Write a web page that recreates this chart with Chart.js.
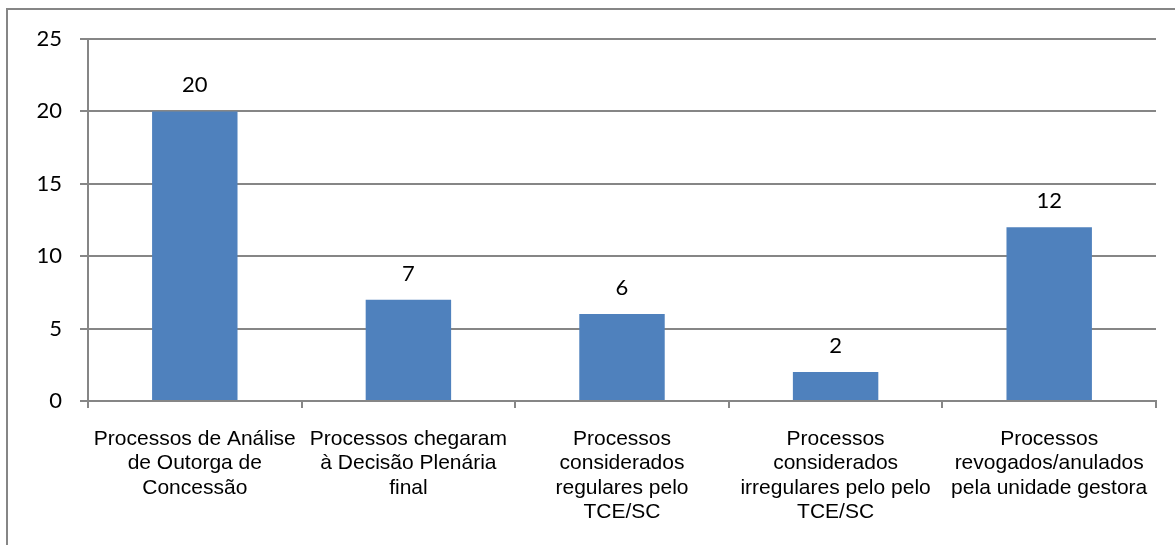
<!DOCTYPE html>
<html>
<head>
<meta charset="utf-8">
<script src="https://cdn.jsdelivr.net/npm/chart.js@4/dist/chart.umd.min.js"></script>
<style>
  html, body { margin: 0; padding: 0; background: #ffffff; overflow: hidden; }
  #frame {
    position: absolute; left: 6px; top: 8px; width: 1300px; height: 700px;
    border-left: 2px solid #868686; border-top: 2px solid #868686;
  }
  #wrap { position: absolute; left: 0; top: 0; width: 1175px; height: 545px; }
</style>
</head>
<body>
<div id="frame"></div>
<div id="wrap"><canvas id="chart" width="1175" height="545"></canvas></div>
<script>
// Categories (multi-line labels) and counts
const categories = [
  ["Processos de Análise", "de Outorga de", "Concessão"],
  ["Processos chegaram", "à Decisão Plenária", "final"],
  ["Processos", "considerados", "regulares pelo", "TCE/SC"],
  ["Processos", "considerados", "irregulares pelo pelo", "TCE/SC"],
  ["Processos", "revogados/anulados", "pela unidade gestora"]
];
const counts = [20, 7, 6, 2, 12];
const yTicks = [0, 5, 10, 15, 20, 25];

const GRID = '#868686';

// Value labels above each bar
const valueLabels = {
  id: 'valueLabels',
  afterDatasetsDraw(chart) {
    const ctx = chart.ctx;
    const meta = chart.getDatasetMeta(0);
    ctx.save();
    ctx.font = '22px Lato, "Open Sans", sans-serif';
    ctx.fillStyle = '#000000';
    ctx.textAlign = 'center';
    ctx.textBaseline = 'alphabetic';
    meta.data.forEach((bar, i) => {
      ctx.fillText(String(counts[i]), bar.x, bar.y - 19);
    });
    ctx.restore();
  }
};

new Chart(document.getElementById('chart'), {
  type: 'bar',
  data: {
    labels: categories,
    datasets: [{
      data: counts,
      backgroundColor: '#4F81BD',
      borderWidth: 0,
      barPercentage: 0.4,
      categoryPercentage: 1.0
    }]
  },
  options: {
    responsive: false,
    animation: false,
    devicePixelRatio: 1,
    layout: { padding: { left: 0, top: 39, right: 19, bottom: 0 } },
    plugins: { legend: { display: false }, tooltip: { enabled: false } },
    scales: {
      x: {
        offset: true,
        grid: {
          offset: true,
          drawOnChartArea: false,
          drawTicks: true,
          tickLength: 7,
          color: GRID,
          lineWidth: 2
        },
        border: { display: true, color: GRID, width: 2 },
        ticks: {
          color: '#000000',
          padding: 19,
          maxRotation: 0,
          autoSkip: false,
          font: { family: '"Liberation Sans", Arial, sans-serif', size: 21, lineHeight: 1.16 }
        },
        afterFit(scale) { scale.height = 144; }
      },
      y: {
        min: 0,
        max: 25,
        afterBuildTicks(scale) { scale.ticks = yTicks.map(v => ({ value: v })); },
        grid: {
          color: GRID,
          lineWidth: 2,
          drawTicks: true,
          tickLength: 8
        },
        border: { display: true, color: GRID, width: 2 },
        ticks: {
          color: '#000000',
          padding: 18,
          font: { family: 'Lato, "Open Sans", sans-serif', size: 22 }
        },
        afterFit(scale) { scale.width = 88; }
      }
    }
  },
  plugins: [valueLabels]
});
</script>
</body>
</html>
